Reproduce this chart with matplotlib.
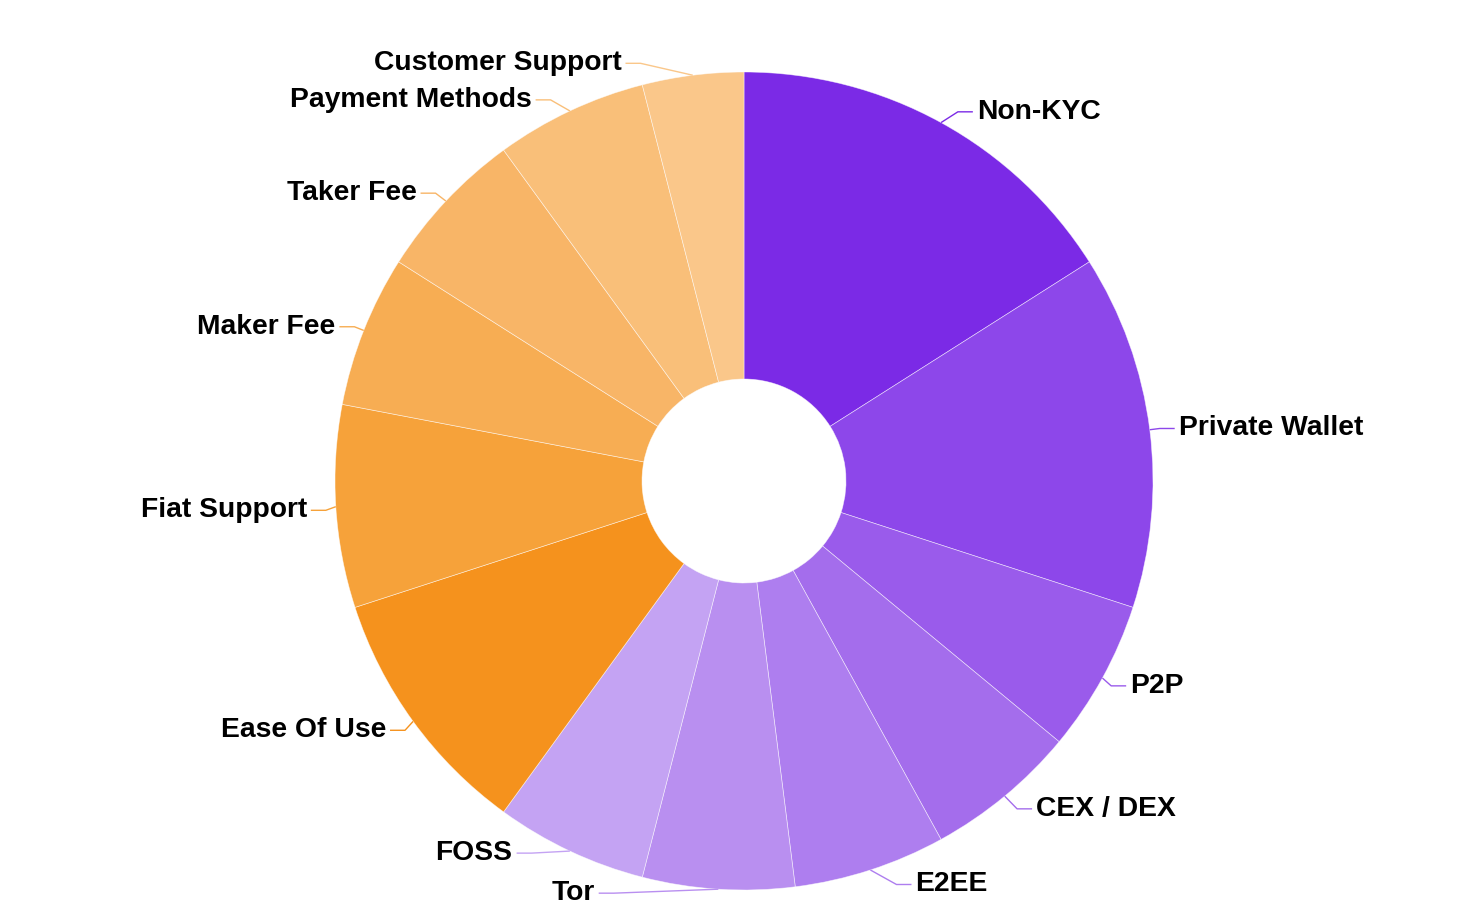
import numpy as np
import matplotlib.pyplot as plt

# data
categories = ['Non-KYC', 'Private Wallet', 'P2P', 'CEX / DEX', 'E2EE', 'Tor', 'FOSS',
              'Ease Of Use', 'Fiat Support', 'Maker Fee', 'Taker Fee',
              'Payment Methods', 'Customer Support']
weights = [16, 14, 6, 6, 6, 6, 6, 10, 8, 6, 6, 6, 4]
colors = ['#7b2ae6', '#8d47ea', '#9a5beb', '#a46dec', '#ae7eef', '#b98ff0', '#c4a3f3',
          '#f5921d', '#f6a23a', '#f7ad53', '#f8b567', '#f9bf79', '#fac78a']

# label layout tweaks (pixels): push outward / down where labels were moved apart
nudge_out = [12, 0, 0, 6, 23, 104, 34, 0, 0, 0, 3, 15, 51]
nudge_down = [-2, 0, 3, 5, 5, -6, -7, 3, 3, 0, -1, -2, -2]

W, H = 1467, 917
cx, cy = 744, H - 481
R, R0 = 409, 102
len1, len2, gap = 10, 15, 4

fig = plt.figure(figsize=(W / 100, H / 100), dpi=100)
ax = fig.add_axes([0, 0, 1, 1])

wedges, _ = ax.pie(weights, colors=colors, center=(cx, cy), radius=R,
                   startangle=90, counterclock=False,
                   wedgeprops=dict(width=R - R0, edgecolor=(1, 1, 1, 0.6), linewidth=0.5))
ax.set_xlim(0, W)
ax.set_ylim(0, H)
ax.set_aspect('equal')
ax.axis('off')

for w, name, col, no, nd in zip(wedges, categories, colors, nudge_out, nudge_down):
    mid = np.deg2rad((w.theta1 + w.theta2) / 2)
    dx, dy = np.cos(mid), np.sin(mid)
    side = 1 if dx >= 0 else -1
    x1, y1 = cx + R * dx, cy + R * dy
    x2 = cx + (R + len1) * dx + side * no
    y2 = cy + (R + len1) * dy - nd
    x3 = x2 + side * len2
    ax.plot([x1, x2, x3], [y1, y2, y2], color=col, lw=1, solid_capstyle='butt')
    ax.text(x3 + side * gap, y2, name, ha='left' if side > 0 else 'right', va='center',
            fontsize=20.3, fontweight='bold', family='Liberation Sans', color='#000000')

fig.savefig('out.png', dpi=100)
